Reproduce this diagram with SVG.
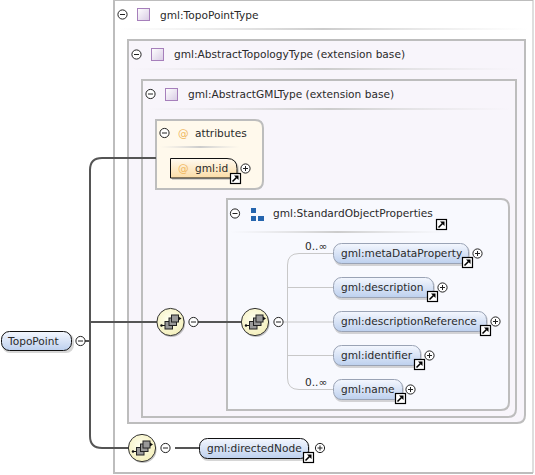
<svg xmlns="http://www.w3.org/2000/svg" width="535" height="475" viewBox="0 0 535 475">
<style>
text{font-family:"DejaVu Sans","Liberation Sans",sans-serif;font-size:10.6px;fill:#2a2a2a}
.box{stroke:#bdbdbd;stroke-width:2}
.thin{fill:none;stroke:#c8c8c8;stroke-width:1}
.thick{fill:none;stroke:#555;stroke-width:2}
.el{fill:url(#blue);stroke:#9aa3b5;stroke-width:1}
.req{fill:url(#blue);stroke:#111;stroke-width:1}
.sh{fill:#999;opacity:.4}
.at{fill:#f0b860}
</style>
<defs>
<linearGradient id="blue" x1="0" y1="0" x2="0" y2="1"><stop offset="0" stop-color="#f4f7fe"/><stop offset="1" stop-color="#bdd0ee"/></linearGradient>
<linearGradient id="orange" x1="0" y1="0" x2="0" y2="1"><stop offset="0" stop-color="#fffaf0"/><stop offset="1" stop-color="#fbdca6"/></linearGradient>
<linearGradient id="ln" x1="0" y1="0" x2="1" y2="0"><stop offset="0" stop-color="#ddd" stop-opacity="0"/><stop offset=".5" stop-color="#ccc"/><stop offset="1" stop-color="#ddd" stop-opacity="0"/></linearGradient>
<linearGradient id="pur" x1="0" y1="0" x2="1" y2="1"><stop offset="0" stop-color="#fff"/><stop offset="1" stop-color="#d8cbe4"/></linearGradient>
<radialGradient id="yel" cx=".45" cy=".4" r=".65"><stop offset="0" stop-color="#fffff0"/><stop offset="1" stop-color="#f3eeb8"/></radialGradient>
<g id="minus"><circle r="4.6" fill="#fff" stroke="#222" stroke-width="1"/><path d="M-2.500 0H2.500" stroke="#222" stroke-width="1"/></g>
<g id="plus"><circle r="4.600" fill="#fff" stroke="#222" stroke-width="1"/><path d="M-2.500 0H2.500M0-2.500V2.500" stroke="#222" stroke-width="1"/></g>
<g id="link"><rect x=".5" y=".5" width="10" height="10" fill="#fff" stroke="#000" stroke-width="1.2"/><path d="M2.500 8.500L6.500 4.500" stroke="#000" stroke-width="1.6"/><path d="M4 2.500H8.500V7Z" fill="#000"/></g>
<g id="tp"><rect x=".5" y=".5" width="12" height="12" fill="url(#pur)" stroke="#a67fbb" stroke-width="1"/></g>
<g id="seq"><circle cx="1" cy="1.500" r="13.600" fill="#888" opacity=".5"/><circle r="13.600" fill="url(#yel)" stroke="#333" stroke-width="1"/><path d="M-9 3.500H-4M8 -3.500H10" stroke="#111" stroke-width="1"/><rect x="-5.500" y="-.5" width="7.500" height="7.500" fill="#999" stroke="#222"/><rect x="-1.500" y="-4" width="7.500" height="7.500" fill="#999" stroke="#222"/><rect x="1" y="-7" width="7" height="7" fill="#999" stroke="#222"/><circle cx="-9" cy="3.500" r="1.200" fill="#111"/><path d="M8 -5.500L11 -3.500L8 -1.500Z" fill="#111"/></g>
</defs>
<rect width="535" height="475" fill="#fff"/>
<g id="TopoPointType">
<path class="box" d="M533 0H114V473H533" fill="#fff"/>
<path d="M533 0V473" stroke="#bdbdbd" stroke-width="1"/>
<use href="#minus" x="122.500" y="14.500"/><use href="#tp" x="137" y="8"/>
<text x="160" y="18.500">gml:TopoPointType</text>
<rect x="118" y="28" width="410" height="2" fill="url(#ln)"/>
</g>
<g id="AbstractTopologyType">
<path class="box" d="M128 40H525V415Q525 423 517 423H128Z" fill="#f8f5fb"/>
<use href="#minus" x="136.500" y="54.500"/><use href="#tp" x="151" y="48"/>
<text x="174" y="58">gml:AbstractTopologyType (extension base)</text>
<rect x="132" y="68" width="385" height="2" fill="url(#ln)"/>
</g>
<g id="AbstractGMLType">
<path class="box" d="M142 80H516V409Q516 417 508 417H142Z" fill="#f8f5fb"/>
<use href="#minus" x="150.500" y="94"/><use href="#tp" x="165" y="88"/>
<text x="188" y="98">gml:AbstractGMLType (extension base)</text>
<rect x="146" y="108" width="365" height="2" fill="url(#ln)"/>
</g>
<g id="attributes">
<path class="box" d="M156 120H255Q263 120 263 128V181Q263 189 255 189H156Z" fill="#fff9ec"/>
<use href="#minus" x="164.500" y="133"/>
<text x="178" y="137" class="at">@</text>
<text x="195" y="137">attributes</text>
<rect x="160" y="146" width="80" height="2" fill="url(#ln)"/>
</g>
<g id="gml-id">
<path d="M172 160H229Q239 160 239 170V180H172Z" class="sh"/>
<path d="M170.500 158.500H227Q237 158.500 237 168.500V178H170.500Z" fill="url(#orange)" stroke="#111"/>
<text x="178" y="172" class="at">@</text>
<text x="195" y="172">gml:id</text>
<use href="#link" x="230" y="173"/><use href="#plus" x="245.500" y="168.500"/>
</g>
<g id="StandardObjectProperties">
<path class="box" d="M227 199H501Q509 199 509 207V402Q509 410 501 410H227Z" fill="#f8f9fe"/>
<use href="#minus" x="235" y="213.500"/>
<path d="M251 208h5v5h-5zM251 216h5v5h-5zM258 216h6v5h-6z" fill="#2565ae"/>
<text x="273" y="217">gml:StandardObjectProperties</text>
<use href="#link" x="436" y="219"/>
<rect x="230" y="231" width="215" height="2" fill="url(#ln)"/>
</g>
<g id="connectors">
<path class="thick" d="M156 158H102Q90 158 90 170V436Q90 448 102 448H128M85 341H90M90 322H157M198 322H241"/>
<path d="M175 448H199" class="thick"/>
<path class="thin" d="M283 322H333M299 253.500Q287.500 253.500 287.500 265V378Q287.500 389.500 299 389.500H333M299 253.500H333M287.500 287.500H333M287.500 355.500H333"/>
</g>
<g id="TopoPoint">
<rect x="2" y="333" width="72" height="20" rx="8" class="sh"/>
<rect x="1.500" y="331.500" width="70" height="19" rx="8" class="req"/>
<text x="8" y="345">TopoPoint</text>
<use href="#minus" x="80.500" y="341"/>
</g>
<g id="seq1"><use href="#seq" x="170.500" y="322"/><use href="#minus" x="193.500" y="322"/></g>
<g id="seq2"><use href="#seq" x="255" y="322"/><use href="#minus" x="278.500" y="322"/></g>
<g id="seq3"><use href="#seq" x="142" y="448"/><use href="#minus" x="165.500" y="448"/></g>
<g id="directedNode">
<rect x="200" y="440" width="110" height="21" rx="8" class="sh"/>
<rect x="199.500" y="438.500" width="109" height="20" rx="8" class="req"/>
<text x="207" y="452">gml:directedNode</text>
<use href="#link" x="303" y="452"/><use href="#plus" x="320" y="448"/>
</g>
<g id="metaDataProperty">
<text x="305" y="250">0..∞</text>
<rect x="334" y="245" width="136" height="21" rx="8" class="sh"/>
<rect x="333.500" y="243.500" width="135" height="20" rx="8" class="el"/>
<text x="341" y="257">gml:metaDataProperty</text>
<use href="#link" x="462" y="257"/><use href="#plus" x="477.500" y="253.500"/>
</g>
<g id="description">
<rect x="334" y="279" width="101" height="21" rx="8" class="sh"/>
<rect x="333.500" y="277.500" width="100" height="20" rx="8" class="el"/>
<text x="341" y="291">gml:description</text>
<use href="#link" x="427" y="291"/><use href="#plus" x="442.500" y="287.500"/>
</g>
<g id="descriptionReference">
<rect x="334" y="313" width="154" height="21" rx="8" class="sh"/>
<rect x="333.500" y="311.500" width="153" height="20" rx="8" class="el"/>
<text x="341" y="325">gml:descriptionReference</text>
<use href="#link" x="480" y="325"/><use href="#plus" x="495.500" y="321.500"/>
</g>
<g id="identifier">
<rect x="334" y="347" width="88" height="21" rx="8" class="sh"/>
<rect x="333.500" y="345.500" width="87" height="20" rx="8" class="el"/>
<text x="341" y="359">gml:identifier</text>
<use href="#link" x="414" y="359"/><use href="#plus" x="429.500" y="355.500"/>
</g>
<g id="name">
<text x="305" y="386">0..∞</text>
<rect x="334" y="381" width="70" height="21" rx="8" class="sh"/>
<rect x="333.500" y="379.500" width="69" height="20" rx="8" class="el"/>
<text x="341" y="393">gml:name</text>
<use href="#link" x="395" y="393"/><use href="#plus" x="410.500" y="389.500"/>
</g>
</svg>
